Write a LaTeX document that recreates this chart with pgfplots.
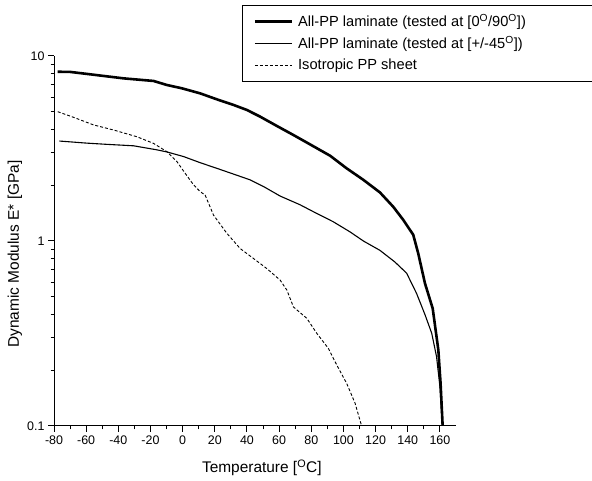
\documentclass[border=0pt]{standalone}
\usepackage{fontspec}
\setmainfont{Liberation Sans}
\usepackage{pgfplots}
\pgfplotsset{compat=1.18}
\begin{document}
\begin{tikzpicture}[x=1bp,y=1bp]
\path[use as bounding box] (0,0) rectangle (592,481);
\begin{axis}[
  at={(54bp,55bp)}, anchor=south west,
  scale only axis, width=402bp, height=370bp,
  xmin=-80, xmax=170, ymode=log, ymin=0.1, ymax=10,
  axis x line*=bottom, axis y line*=left,
  axis line style={-, line width=1bp},
  xtick={-80,-60,...,160}, minor x tick num=1,
  ytick={0.1,1,10}, yticklabels={0.1,1,10},
  tick align=outside, major tick length=6bp, minor tick length=3.5bp,
  tick style={line width=1bp, black},
  ticklabel style={font=\fontsize{12.5}{14}\selectfont},
  /pgf/number format/assume math mode=true,
  xlabel={Temperature [\textsuperscript{O}C]},
  ylabel={Dynamic Modulus E* [GPa]},
  label style={font=\fontsize{15.5}{18}\selectfont},
  xlabel style={at={(axis description cs:0.517,-0.1135)}, anchor=center},
  ylabel style={at={(axis description cs:-0.097,0.465)}, anchor=center},
  legend style={at={(axis description cs:0.468,1.138)}, anchor=north west,
    draw=black, line width=0.8bp, font=\fontsize{14.7}{17}\selectfont,
    inner xsep=11bp, inner ysep=5bp, column sep=5bp, row sep=0bp,
    nodes={inner sep=0bp, minimum height=22bp}},
  legend cell align=left,
  legend image code/.code={\draw[#1] (0bp,0bp) -- (37bp,0bp);},
]
\addplot[black, line width=2.6bp] coordinates {
(-77.7,8.22) (-69.9,8.2) (-59.5,8.0) (-49.1,7.8) (-36.7,7.57) (-18.1,7.33)
(-9.8,6.97) (-0.5,6.69) (10.9,6.28) (21.3,5.83) (31.6,5.44) (39.9,5.11)
(48.2,4.70) (58.5,4.19) (68.9,3.74) (79.2,3.33) (91.7,2.89) (102,2.47)
(112.4,2.14) (122.7,1.83) (131,1.53) (137.2,1.30) (143.4,1.08) (146.5,0.857)
(150.7,0.59) (155.5,0.432) (159,0.258) (160.4,0.17) (161.7,0.1)
};
\addlegendentry{\makebox[292bp][l]{All-PP laminate (tested at [0\textsuperscript{O}/90\textsuperscript{O}])}}
\addplot[black, line width=1.1bp] coordinates {
(-76.7,3.47) (-59.5,3.38) (-47.1,3.33) (-30.5,3.27) (-16,3.11) (-9.8,3.03)
(0.6,2.86) (10.9,2.65) (21.3,2.47) (31.6,2.30) (42,2.14) (50.3,1.97)
(60.6,1.75) (73,1.57) (81.3,1.44) (93.7,1.27) (104.1,1.12) (112.4,1.0)
(122.7,0.89) (132,0.77) (139.3,0.67) (145.5,0.52) (150.7,0.40) (154.9,0.317)
(157.9,0.237) (160,0.163) (161.5,0.1)
};
\addlegendentry{All-PP laminate (tested at [+/-45\textsuperscript{O}])}
\addplot[black, line width=0.9bp, dash pattern=on 3bp off 2bp] coordinates {
(-77.7,5.0) (-67.8,4.66) (-55.4,4.24) (-42.9,3.98) (-28.4,3.66) (-18.1,3.37)
(-9.8,3.04) (-3.6,2.69) (1.6,2.32) (6.8,2.01) (10.9,1.85) (14,1.77)
(19.2,1.38) (27.5,1.10) (35.8,0.91) (44,0.805) (52.3,0.71) (60.6,0.615)
(64.8,0.543) (68.9,0.44) (77.2,0.382) (83.4,0.317) (90.6,0.263) (95.8,0.214)
(102,0.170) (107.2,0.133) (111.3,0.1)
};
\addlegendentry{Isotropic PP sheet}
\end{axis}
\end{tikzpicture}
\end{document}
